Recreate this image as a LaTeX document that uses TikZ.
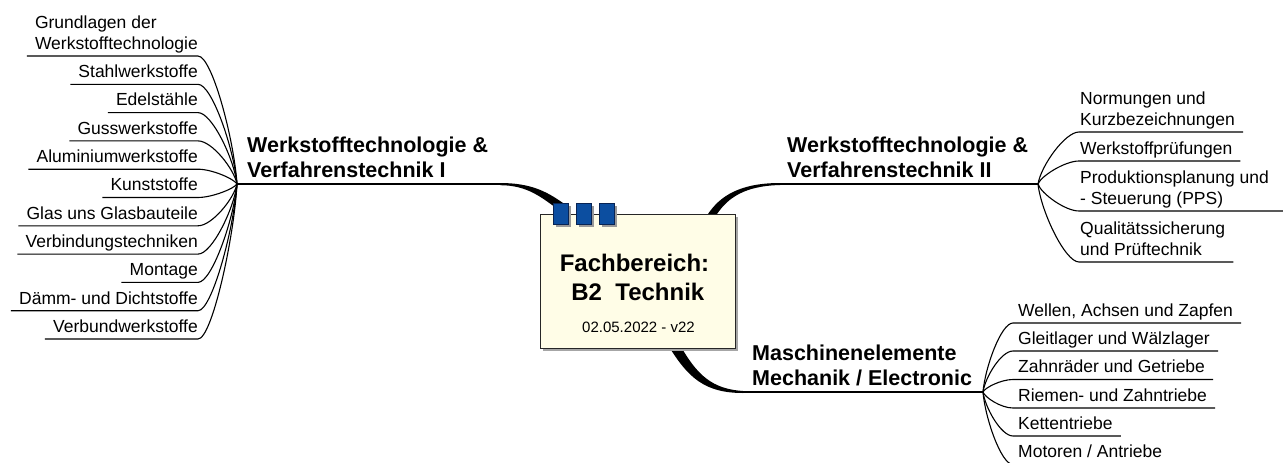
\documentclass[tikz,border=0pt]{standalone}
\usepackage{fontspec}
\setmainfont{Liberation Sans}
\usetikzlibrary{calc}
\definecolor{notefill}{RGB}{255,253,231}
\definecolor{tabblue}{RGB}{12,78,160}
\definecolor{tabedge}{RGB}{8,36,84}
% force a fixed depth on the last text line so that a node's south edge is its underline
\newcommand{\dpfix}{\rule[-6.5pt]{0pt}{0pt}}
\newcommand{\dpmain}{\rule[-6pt]{0pt}{0pt}}
\newcommand{\dpbig}{\rule[-10pt]{0pt}{0pt}}

\begin{document}
\begin{tikzpicture}[x=1pt,y=-1pt,
  item/.style={font=\fontsize{17.5}{21}\selectfont, inner sep=0pt, align=left},
  mainlbl/.style={font=\bfseries\fontsize{21.5}{25}\selectfont, inner sep=0pt, align=left, anchor=south west},
  sub/.style={line width=1.1pt},
  trunk/.style={line width=2pt},
  tab/.style={draw=tabedge, line width=0.8pt, fill=tabblue, minimum width=15pt, minimum height=21pt, inner sep=0pt, anchor=north west},
]
\useasboundingbox (0,0) rectangle (1283,463);
\clip (0,0) rectangle (1283,463);

% hubs where the sub-branches meet
\coordinate (hubL) at (237,184);
\coordinate (hubR) at (1038,184);
\coordinate (hubM) at (983,392);
\coordinate (bendL) at (500,184);
\coordinate (bendR) at (780,184);
\coordinate (bendM) at (743,392);

% main branch labels
\node[mainlbl] (mL) at (247,184) {Werkstofftechnologie \&\\Verfahrenstechnik I\dpmain};
\node[mainlbl] (mR) at (787,184) {Werkstofftechnologie \&\\Verfahrenstechnik II\dpmain};
\node[mainlbl] (mM) at (752,392) {Maschinenelemente\\Mechanik / Electronic\dpmain};

% main branches: straight part
\draw[trunk] (hubL) -- (bendL);
\draw[trunk] (bendR) -- (hubR);
\draw[trunk] (bendM) -- (hubM);
% main branches: tapered part towards the central note
\fill (bendL) ++(0,-1) .. controls (530,183) and (546,191) .. (563,203) -- (559,210)
      .. controls (542,198) and (528,185.2) .. (500,185.2) -- cycle;
\fill (708,214) .. controls (720,196) and (740,183) .. (780,183) -- (780,185)
      .. controls (744,186) and (728,198) .. (717,214) -- cycle;
\fill (668,345) .. controls (688,378) and (705,393) .. (743,393) -- (743,391)
      .. controls (712,389) and (697,375) .. (680,345) -- cycle;

% left sub-topics
\node[item, anchor=south east] (l1) at (198,56) {Grundlagen der\\Werkstofftechnologie\dpfix};
\node[item, anchor=south east] (l2) at (198,84.3) {Stahlwerkstoffe\dpfix};
\node[item, anchor=south east] (l3) at (198,112.6) {Edelstähle\dpfix};
\node[item, anchor=south east] (l4) at (198,140.9) {Gusswerkstoffe\dpfix};
\node[item, anchor=south east] (l5) at (198,169.2) {Aluminiumwerkstoffe\dpfix};
\node[item, anchor=south east] (l6) at (198,197.5) {Kunststoffe\dpfix};
\node[item, anchor=south east] (l7) at (198,225.8) {Glas uns Glasbauteile\dpfix};
\node[item, anchor=south east] (l8) at (198,254.1) {Verbindungstechniken\dpfix};
\node[item, anchor=south east] (l9) at (198,282.4) {Montage\dpfix};
\node[item, anchor=south east] (l10) at (198,310.7) {Dämm- und Dichtstoffe\dpfix};
\node[item, anchor=south east] (l11) at (198,339) {Verbundwerkstoffe\dpfix};

\foreach \n/\yy in {l1/56,l2/84.3,l3/112.6,l4/140.9,l5/169.2,l6/197.5,l7/225.8,l8/254.1,l9/282.4,l10/310.7,l11/339}{
  \draw[sub] ([xshift=-8pt]\n.south west) -- (\n.south east)
     .. controls +(14,0) and ($(hubL)+(-3,{(\yy-184)*0.35})$) .. (hubL);
}

% right upper sub-topics
\node[item, anchor=south west] (r1) at (1080,132) {Normungen und\\Kurzbezeichnungen\dpfix};
\node[item, anchor=south west] (r2) at (1080,161) {Werkstoffprüfungen\dpfix};
\node[item, anchor=south west] (r3) at (1080,211) {Produktionsplanung und\\- Steuerung (PPS)\dpfix};
\node[item, anchor=south west] (r4) at (1080,262) {Qualitätssicherung\\und Prüftechnik\dpfix};

\foreach \n/\yy/\ext in {r1/132/8,r2/161/8,r3/211/20,r4/262/8}{
  \draw[sub] (hubR) .. controls ($(hubR)+(3,{(\yy-184)*0.35})$) and +(-14,0)
     .. ([xshift=-1pt]\n.south west) -- ([xshift=\ext pt]\n.south east);
}

% right lower sub-topics
\node[item, anchor=south west] (b1) at (1018,323) {Wellen, Achsen und Zapfen\dpfix};
\node[item, anchor=south west] (b2) at (1018,351) {Gleitlager und Wälzlager\dpfix};
\node[item, anchor=south west] (b3) at (1018,379.5) {Zahnräder und Getriebe\dpfix};
\node[item, anchor=south west] (b4) at (1018,408) {Riemen- und Zahntriebe\dpfix};
\node[item, anchor=south west] (b5) at (1018,436) {Kettentriebe\dpfix};
\node[item, anchor=south west] (b6) at (1018,464.5) {Motoren / Antriebe\dpfix};

\foreach \n/\yy in {b1/323,b2/351,b3/379.5,b4/408,b5/436,b6/464.5}{
  \draw[sub] (hubM) .. controls ($(hubM)+(2,{(\yy-392)*0.35})$) and +(-12,0)
     .. ([xshift=-5pt]\n.south west) -- ([xshift=8pt]\n.south east);
}

% central note with its shadow
\fill[black!35] (543,217) rectangle (738,351);
\node[draw=black!85, line width=0.8pt, fill=notefill, minimum width=195pt, minimum height=134pt,
      inner sep=0pt, anchor=north west] (box) at (540,214) {};
\node[font=\bfseries\fontsize{24}{29}\selectfont, align=center, inner sep=0pt, anchor=south]
      (title) at (634.5,311) {Fachbereich:\\\hspace*{6.7pt}B2\ \ Technik\dpbig};
\node[font=\fontsize{15}{18}\selectfont, inner sep=0pt, anchor=south]
      (date) at (638.5,343) {02.05.2022 - v22\dpbig};

% clips on top of the note
\foreach \i/\x in {1/553,2/576,3/599}{
  \fill[black!40] (\x+2.5,205.5) rectangle (\x+17.5,226.5);
  \node[tab] (tab\i) at (\x,203) {};
}
\end{tikzpicture}
\end{document}
